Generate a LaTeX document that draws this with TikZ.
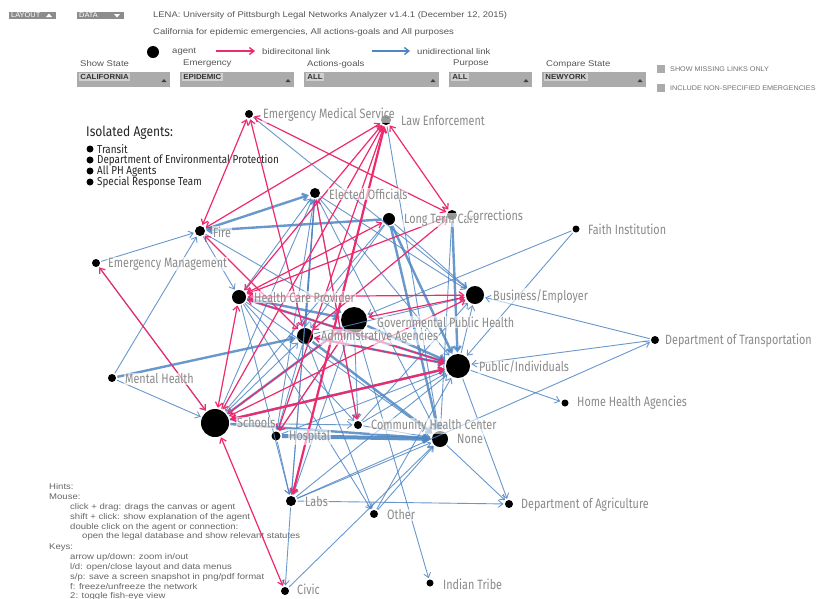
\documentclass[tikz,border=0pt]{standalone}
\usepackage{fontspec}
\setmainfont{Liberation Sans}
\newfontfamily\pixfont{Liberation Sans}[FakeStretch=1.15]
\newfontfamily\capfont{Liberation Sans}[FakeStretch=1.06]
\newfontfamily\netfont{Fira Sans}[FakeStretch=0.8]
\newfontfamily\isofont{Fira Sans}[FakeStretch=0.86]
\usetikzlibrary{arrows.meta}
\definecolor{pinkc}{HTML}{EE2A6E}
\definecolor{bluec}{HTML}{4E86C4}
\definecolor{lblc}{HTML}{8A8A8A}
\definecolor{hdrc}{HTML}{555555}
\definecolor{boxc}{HTML}{ABABAB}
\definecolor{boxhi}{HTML}{CFCFCF}
\tikzset{
  >={Straight Barb[length=4.5pt,width=7pt]},
  agent/.style={circle,fill=black,inner sep=0pt,outer sep=1.5pt},
  lbl/.style={anchor=west,font=\netfont\fontsize{13.5}{14}\selectfont,text=lblc,fill=white,fill opacity=0.6,text opacity=1,inner sep=1pt},
  uni/.style={->,draw=bluec,line width=0.9pt,draw opacity=0.85},
  uniT/.style={->,draw=bluec,line width=2.4pt,draw opacity=0.85},
  bi/.style={<->,draw=pinkc,line width=1.2pt},
  biT/.style={<->,draw=pinkc,line width=2.2pt},
  hdr/.style={anchor=west,font=\pixfont\fontsize{8.3}{10}\selectfont,text=hdrc,inner sep=0pt},
  hint/.style={anchor=west,font=\pixfont\fontsize{8.3}{10}\selectfont,text=black!60,inner sep=0pt},
  ddbox/.style={fill=boxc,draw=none},
  ddtxt/.style={anchor=west,font=\capfont\bfseries\fontsize{7.4}{8}\selectfont,text=black!80,fill=boxhi,inner sep=1.2pt},
  tri/.style={fill=black!75,draw=none},
  chk/.style={fill=boxc,draw=none},
  chktxt/.style={anchor=west,font=\capfont\fontsize{6.8}{8}\selectfont,text=black!55,inner sep=0pt},
  btn/.style={fill=black!45,draw=none},
  btntxt/.style={anchor=west,font=\capfont\fontsize{7}{8}\selectfont,text=white,inner sep=0pt},
  iso/.style={anchor=west,font=\isofont\fontsize{11.5}{11.5}\selectfont,text=black!85,inner sep=0pt},
  bul/.style={circle,fill=black,inner sep=0pt,minimum size=7pt}
}
\begin{document}
\begin{tikzpicture}[x=1pt,y=-1pt]
\useasboundingbox[fill=white] (0,0) rectangle (818,598);

% ---------- header buttons ----------
\fill[btn] (9,12) rectangle (56,19);
\node[btntxt] (bLay) at (11,15.5) {LAYOUT};
\fill[white] (46,17) -- (52,17) -- (49,13.5) -- cycle;
\fill[btn] (77,12) rectangle (124,19);
\node[btntxt] (bDat) at (79,15.5) {DATA};
\fill[white] (114,14) -- (120,14) -- (117,17.5) -- cycle;

\node[hdr,font=\pixfont\fontsize{8.2}{10}\selectfont] (title) at (153,15.5) {LENA: University of Pittsburgh Legal Networks Analyzer v1.4.1 (December 12, 2015)};
\node[hdr] (sub) at (153,32.5) {California for epidemic emergencies, All actions-goals and All purposes};

% ---------- legend ----------
\node[agent,minimum size=12pt] (legA) at (153,52) {};
\node[hdr] (legAt) at (172,52) {agent};
\coordinate (lp1) at (216,51); \coordinate (lp2) at (255,51);
\draw[->,draw=pinkc,line width=1.4pt] (lp1) -- (lp2);
\node[hdr] (legP) at (262,52) {bidirecitonal link};
\coordinate (lb1) at (372,51); \coordinate (lb2) at (410,51);
\draw[->,draw=bluec,line width=1.4pt] (lb1) -- (lb2);
\node[hdr] (legB) at (417,52) {unidirectional link};

% ---------- dropdowns ----------
\node[hdr] (dl1) at (80,64) {Show State};
\node[hdr] (dl2) at (183,64) {Emergency};
\node[hdr] (dl3) at (307,64) {Actions-goals};
\node[hdr] (dl4) at (453,64) {Purpose};
\node[hdr] (dl5) at (546,64) {Compare State};
\fill[ddbox] (77,72) rectangle (170,87);
\fill[ddbox] (180,72) rectangle (294,87);
\fill[ddbox] (304,72) rectangle (439,87);
\fill[ddbox] (449,72) rectangle (532,87);
\fill[ddbox] (542,72) rectangle (646,87);
\node[ddtxt] (dd1) at (79,77) {CALIFORNIA};
\node[ddtxt] (dd2) at (182,77) {EPIDEMIC};
\node[ddtxt] (dd3) at (306,77) {ALL};
\node[ddtxt] (dd4) at (451,77) {ALL};
\node[ddtxt] (dd5) at (544,77) {NEWYORK};
\foreach \xx in {164,288,433,526,640}
  \fill[tri] (\xx-2.5,82) -- (\xx+2.5,82) -- (\xx,79) -- cycle;

% ---------- checkboxes ----------
\fill[chk] (657,65) rectangle (665,73);
\node[chktxt] (ck1) at (670,69.5) {SHOW MISSING LINKS ONLY};
\fill[chk] (657,84) rectangle (665,92);
\node[chktxt] (ck2) at (670,88.5) {INCLUDE NON-SPECIFIED EMERGENCIES};

% ---------- isolated agents ----------
\node[iso,font=\isofont\fontsize{14}{15}\selectfont] (isoT) at (86,133) {Isolated Agents:};
\node[bul] (ib1) at (90,149) {}; \node[iso] (it1) at (97,149) {Transit};
\node[bul] (ib2) at (90,160) {}; \node[iso] (it2) at (97,160) {Department of Environmental Protection};
\node[bul] (ib3) at (90,171) {}; \node[iso] (it3) at (97,171) {All PH Agents};
\node[bul] (ib4) at (90,182) {}; \node[iso] (it4) at (97,182) {Special Response Team};

% ---------- hints ----------
\node[hint] (h1) at (49,487) {Hints:};
\node[hint] (h2) at (49,497) {Mouse:};
\node[hint] (h3) at (70,507) {click + drag: drags the canvas or agent};
\node[hint] (h4) at (70,517) {shift + click: show explanation of the agent};
\node[hint] (h5) at (70,527) {double click on the agent or connection:};
\node[hint] (h6) at (82,536) {open the legal database and show relevant statutes};
\node[hint] (h7) at (49,547) {Keys:};
\node[hint] (h8) at (70,557) {arrow up/down: zoom in/out};
\node[hint] (h9) at (70,567) {l/d: open/close layout and data menus};
\node[hint] (h10) at (70,577) {s/p: save a screen snapshot in png/pdf format};
\node[hint] (h11) at (70,587) {f: freeze/unfreeze the network};
\node[hint] (h12) at (70,596.5) {2: toggle fish-eye view};

% ---------- agents ----------
\foreach \n/\xx/\yy/\d in {ems/249/114/8, le/386/120/10, eo/315/193/10, ltc/389/219/12,
  cor/452/215/10, faith/576/229/7, fire/200/231/10, em/96/263/8, hcp/239/297/14,
  bus/475/295/18, gph/354/320/26, adm/305/336/16, dot/655/340/8, pub/458/366/24,
  mh/112/378/8, hha/565/403/7, sch/215/423/28, chc/358/425/8, hosp/276/436/9,
  nne/440/439/16, labs/291/501/10, oth/374/514/8, dag/509/504/8, it/430/583/7, civ/285/591/8}
  \node[agent,minimum size=\d pt] (\n) at (\xx,\yy) {};

% ---------- unidirectional links ----------
\foreach \a/\b in {em/fire, mh/fire, mh/sch, le/nne, ems/bus, eo/adm, eo/hosp, eo/labs, eo/chc,
  eo/pub, eo/nne, sch/eo, adm/eo, labs/eo, faith/gph, faith/pub, dot/bus, dot/pub, labs/dot,
  pub/hha, gph/it, nne/dag, pub/dag, labs/dag, oth/nne, labs/nne, labs/pub, hosp/labs, labs/civ,
  civ/nne, hcp/oth, chc/pub, chc/nne, hcp/chc, adm/hosp, gph/labs, pub/bus, chc/bus, sch/adm,
  hcp/nne, ltc/bus, ltc/adm, ltc/sch, cor/nne, fire/hcp, adm/oth, oth/pub, hcp/labs, fire/gph,
  hosp/pub, sch/chc, eo/bus, hcp/eo, adm/bus, gph/chc, hosp/gph, em/sch}
  \draw[uni] (\a) -- (\b);
\foreach \a/\b in {fire/eo, ltc/fire, ltc/pub, ltc/nne, cor/pub, sch/pub, sch/gph, hcp/pub,
  adm/pub, adm/nne, sch/nne, hcp/gph, mh/adm, gph/pub}
  \draw[uniT] (\a) -- (\b);
\draw[->,draw=bluec,line width=4pt,draw opacity=0.9] (hosp) -- (nne);

% ---------- bidirectional links ----------
\foreach \a/\b in {ems/fire, ems/cor, le/fire, le/cor, ems/adm, le/sch, le/hosp, le/hcp,
  fire/adm, em/sch, sch/civ, sch/hcp, sch/bus, hcp/bus, gph/bus, hosp/gph, hcp/pub,
  cor/hcp, cor/adm, ltc/hcp, adm/pub, sch/gph, eo/chc}
  \draw[bi] (\a) -- (\b);
\foreach \a/\b in {sch/pub, labs/le}
  \draw[biT] (\a) -- (\b);

% ---------- labels ----------
\node[lbl] (l-ems) at (262,115) {Emergency Medical Service};
\node[lbl] (l-le) at (400,121) {Law Enforcement};
\node[lbl] (l-eo) at (328,194) {Elected Officials};
\node[lbl] (l-ltc) at (403,220) {Long Term Care};
\node[lbl] (l-cor) at (466,215) {Corrections};
\node[lbl] (l-faith) at (587,229) {Faith Institution};
\node[lbl] (l-fire) at (212,232) {Fire};
\node[lbl] (l-em) at (107,264) {Emergency Management};
\node[lbl] (l-hcp) at (253,297) {Health Care Provider};
\node[lbl] (l-bus) at (492,296) {Business/Employer};
\node[lbl] (l-gph) at (376,322) {Governmental Public Health};
\node[lbl] (l-adm) at (320,337) {Administrative Agencies};
\node[lbl] (l-dot) at (664,341) {Department of Transportation};
\node[lbl] (l-pub) at (478,367) {Public/Individuals};
\node[lbl] (l-mh) at (124,379) {Mental Health};
\node[lbl] (l-hha) at (576,403) {Home Health Agencies};
\node[lbl] (l-sch) at (236,423) {Schools};
\node[lbl] (l-chc) at (370,426) {Community Health Center};
\node[lbl] (l-hosp) at (288,437) {Hospital};
\node[lbl] (l-nne) at (456,439) {None};
\node[lbl] (l-labs) at (304,502) {Labs};
\node[lbl] (l-oth) at (386,515) {Other};
\node[lbl] (l-dag) at (520,505) {Department of Agriculture};
\node[lbl] (l-it) at (442,584) {Indian Tribe};
\node[lbl] (l-civ) at (296,589.5) {Civic};
\end{tikzpicture}
\end{document}
